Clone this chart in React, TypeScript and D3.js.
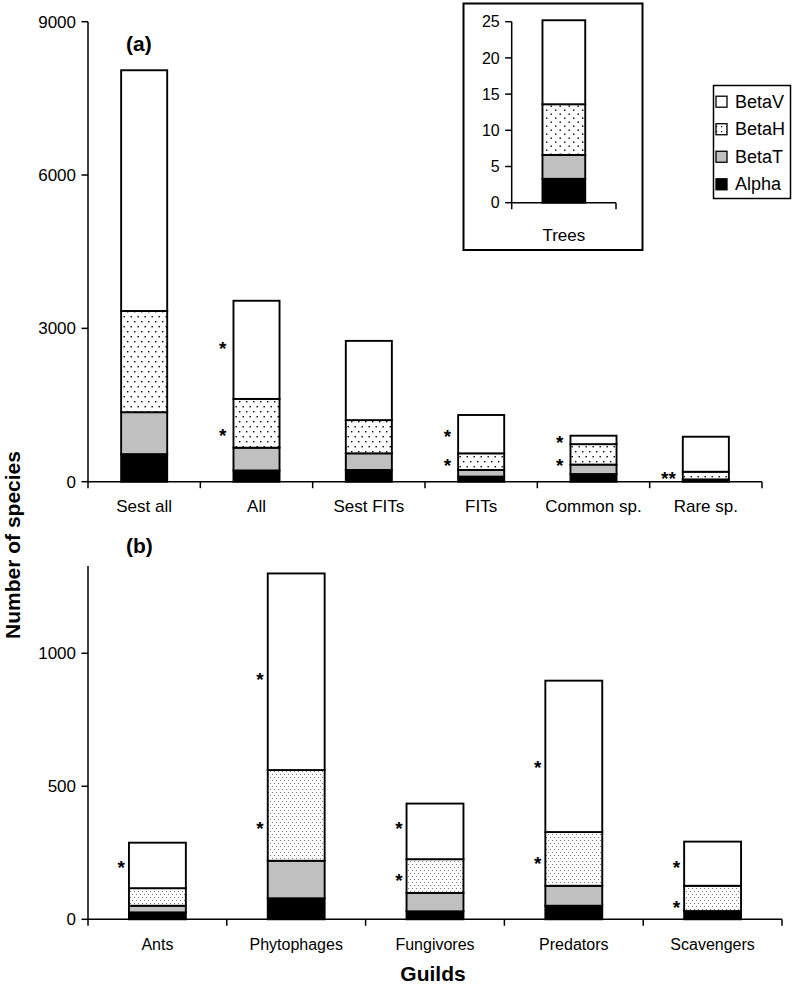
import React from "react";
import * as d3 from "d3";

// ---------- data ----------
const keys = ["Alpha", "BetaT", "BetaH", "BetaV"];

const categoriesA = ["Sest all", "All", "Sest FITs", "FITs", "Common sp.", "Rare sp."];
const alphaA = [540, 220, 230, 100, 150, 25];
const betaTA = [820, 445, 325, 130, 185, 20];
const betaHA = [1980, 955, 650, 325, 400, 150];
const betaVA = [4710, 1920, 1550, 750, 165, 685];
const ticksA = [0, 3000, 6000, 9000];

const categoriesB = ["Ants", "Phytophages", "Fungivores", "Predators", "Scavengers"];
const alphaB = [26, 79, 30, 51, 31];
const betaTB = [25, 141, 69, 75, 0];
const betaHB = [66, 341, 127, 202, 95];
const betaVB = [171, 739, 209, 569, 166];
const ticksB = [0, 500, 1000];

const categoriesT = ["Trees"];
const alphaT = [3.3];
const betaTT = [3.3];
const betaHT = [7.0];
const betaVT = [11.6];
const ticksT = [0, 5, 10, 15, 20, 25];

const starCatsA = ["All", "All", "FITs", "FITs", "Common sp.", "Common sp.", "Rare sp."];
const starValsA = [2690, 1000, 980, 410, 860, 410, 150];
const starTextA = ["*", "*", "*", "*", "*", "*", "**"];

const starCatsB = ["Ants", "Phytophages", "Phytophages", "Fungivores", "Fungivores", "Predators", "Predators", "Scavengers", "Scavengers"];
const starValsB = [213, 918, 358, 358, 163, 589, 227, 211, 60];

const legendLabels = ["BetaV", "BetaH", "BetaT", "Alpha"];

// ---------- helpers ----------
const FONT = "'Liberation Sans', Arial, Helvetica, sans-serif";

function rows(cats: string[], a: number[], t: number[], h: number[], v: number[]) {
  return cats.map((c, i) => ({ cat: c, Alpha: a[i], BetaT: t[i], BetaH: h[i], BetaV: v[i] }));
}

function fillFor(key: string, dots: string) {
  if (key === "Alpha") return "#000";
  if (key === "BetaT") return "#c0c0c0";
  if (key === "BetaH") return `url(#${dots})`;
  return "#fff";
}

type PanelProps = {
  cats: string[];
  data: any[];
  x0: number;
  x1: number;
  yMax: number;
  yBottom: number;
  yTop: number;
  ticks: number[];
  dots: string;
  labelY: number;
  fontSize: number;
  tickFont: number;
};

function Panel(p: PanelProps) {
  const x = d3
    .scaleBand<string>()
    .domain(p.cats)
    .range([p.x0, p.x1])
    .paddingInner(0.59)
    .paddingOuter(0.295);
  const y = d3.scaleLinear().domain([0, p.yMax]).range([p.yBottom, p.yTop]);
  const series = d3.stack<any>().keys(keys)(p.data);
  const step = x.step();
  const boundaries = d3.range(p.cats.length + 1).map((i) => p.x0 + i * step);
  return (
    <g>
      {series.map((s) =>
        s.map((d: any, i: number) => {
          const h = y(d[0]) - y(d[1]);
          if (h <= 0.01) return null;
          return (
            <rect
              key={s.key + i}
              x={x(p.cats[i])}
              y={y(d[1])}
              width={x.bandwidth()}
              height={h}
              fill={fillFor(s.key, p.dots)}
              stroke="#000"
              strokeWidth={1.9}
            />
          );
        })
      )}
      {/* y axis */}
      <line x1={p.x0} x2={p.x0} y1={p.yTop} y2={p.yBottom} stroke="#000" strokeWidth={1.5} />
      {p.ticks.map((t) => (
        <g key={t}>
          <line x1={p.x0 - 6.5} x2={p.x0} y1={y(t)} y2={y(t)} stroke="#000" strokeWidth={1.5} />
          <text
            x={p.x0 - 12}
            y={y(t) + p.tickFont * 0.36}
            textAnchor="end"
            fontFamily={FONT}
            fontSize={p.tickFont}
          >
            {t}
          </text>
        </g>
      ))}
      {/* x axis */}
      <line x1={p.x0} x2={p.x1} y1={p.yBottom} y2={p.yBottom} stroke="#000" strokeWidth={1.5} />
      {boundaries.map((bx, i) => (
        <line key={i} x1={bx} x2={bx} y1={p.yBottom} y2={p.yBottom + 6.5} stroke="#000" strokeWidth={1.5} />
      ))}
      {p.cats.map((c) => (
        <text
          key={c}
          x={(x(c) as number) + x.bandwidth() / 2}
          y={p.labelY}
          textAnchor="middle"
          fontFamily={FONT}
          fontSize={p.fontSize}
        >
          {c}
        </text>
      ))}
    </g>
  );
}

function Stars(props: {
  cats: string[];
  x0: number;
  x1: number;
  yMax: number;
  yBottom: number;
  yTop: number;
  sCats: string[];
  sVals: number[];
  sText?: string[];
  gap: number;
}) {
  const x = d3
    .scaleBand<string>()
    .domain(props.cats)
    .range([props.x0, props.x1])
    .paddingInner(0.59)
    .paddingOuter(0.295);
  const y = d3.scaleLinear().domain([0, props.yMax]).range([props.yBottom, props.yTop]);
  const fs = 19;
  return (
    <g>
      {props.sCats.map((c, i) => (
        <text
          key={i}
          x={(x(c) as number) - props.gap}
          y={y(props.sVals[i]) + fs * 0.58}
          textAnchor="end"
          fontFamily={FONT}
          fontWeight="bold"
          fontSize={fs}
        >
          {props.sText ? props.sText[i] : "*"}
        </text>
      ))}
    </g>
  );
}

export default function App() {
  const dataA = rows(categoriesA, alphaA, betaTA, betaHA, betaVA);
  const dataB = rows(categoriesB, alphaB, betaTB, betaHB, betaVB);
  const dataT = rows(categoriesT, alphaT, betaTT, betaHT, betaVT);

  const A = { x0: 88, x1: 762, yMax: 9000, yBottom: 481.7, yTop: 21.7 };
  const B = { x0: 88, x1: 782, yMax: 1328, yBottom: 919.3, yTop: 566 };
  const T = { x0: 511.7, x1: 616, yMax: 25, yBottom: 202.7, yTop: 21.7 };

  const legendY = d3.scaleLinear().domain([0, 3]).range([101.7, 184.3]);
  const legendKeys = ["BetaV", "BetaH", "BetaT", "Alpha"];

  return (
    <svg
      width={798}
      height={987}
      style={{ position: "absolute", left: 0, top: 0, background: "#fff" }}
    >
      <defs>
        <pattern id="dotsA" patternUnits="userSpaceOnUse" width={7} height={10}>
          <rect width={7} height={10} fill="#fff" />
          <rect x={1} y={1} width={1.4} height={1.4} fill="#000" />
          <rect x={4.5} y={6} width={1.4} height={1.4} fill="#000" />
        </pattern>
        <pattern id="dotsB" patternUnits="userSpaceOnUse" width={4} height={6}>
          <rect width={4} height={6} fill="#fff" />
          <rect x={0} y={0} width={1} height={1} fill="#777" />
          <rect x={2} y={3} width={1} height={1} fill="#777" />
        </pattern>
        <pattern id="dotsT" patternUnits="userSpaceOnUse" width={9} height={8}>
          <rect width={9} height={8} fill="#fff" />
          <rect x={1.5} y={1.5} width={1.4} height={1.4} fill="#000" />
          <rect x={6} y={5.5} width={1.4} height={1.4} fill="#000" />
        </pattern>
        <pattern id="dotsL" patternUnits="userSpaceOnUse" width={5} height={5}>
          <rect width={5} height={5} fill="#fff" />
          <rect x={1} y={1} width={1.2} height={1.2} fill="#000" />
        </pattern>
      </defs>

      {/* Panel (a) */}
      <Panel
        cats={categoriesA}
        data={dataA}
        {...A}
        ticks={ticksA}
        dots="dotsA"
        labelY={512}
        fontSize={17}
        tickFont={17}
      />
      <Stars cats={categoriesA} {...A} sCats={starCatsA} sVals={starValsA} sText={starTextA} gap={7} />
      <text x={126} y={51} fontFamily={FONT} fontWeight="bold" fontSize={21}>
        (a)
      </text>

      {/* Panel (b) */}
      <Panel
        cats={categoriesB}
        data={dataB}
        {...B}
        ticks={ticksB}
        dots="dotsB"
        labelY={950}
        fontSize={16}
        tickFont={17}
      />
      <Stars cats={categoriesB} {...B} sCats={starCatsB} sVals={starValsB} gap={4} />
      <text x={126} y={553} fontFamily={FONT} fontWeight="bold" fontSize={21}>
        (b)
      </text>

      {/* Inset */}
      <rect x={463.5} y={3.5} width={179} height={246.5} fill="#fff" stroke="#000" strokeWidth={2} />
      <Panel
        cats={categoriesT}
        data={dataT}
        {...T}
        ticks={ticksT}
        dots="dotsT"
        labelY={241}
        fontSize={17}
        tickFont={16}
      />

      {/* Legend */}
      <rect x={713.5} y={85.5} width={77} height={113} fill="#fff" stroke="#000" strokeWidth={1.5} />
      {legendKeys.map((k, i) => (
        <g key={k}>
          <rect
            x={716}
            y={legendY(i) - 5.5}
            width={11}
            height={11}
            fill={k === "BetaH" ? "url(#dotsL)" : fillFor(k, "dotsL")}
            stroke="#000"
            strokeWidth={1.3}
          />
          <text x={735} y={legendY(i) + 6} fontFamily={FONT} fontSize={18}>
            {legendLabels[i]}
          </text>
        </g>
      ))}

      {/* Axis titles */}
      <text
        transform="translate(20,545) rotate(-90)"
        textAnchor="middle"
        fontFamily={FONT}
        fontWeight="bold"
        fontSize={21}
      >
        Number of species
      </text>
      <text x={433} y={981} textAnchor="middle" fontFamily={FONT} fontWeight="bold" fontSize={21}>
        Guilds
      </text>
    </svg>
  );
}
